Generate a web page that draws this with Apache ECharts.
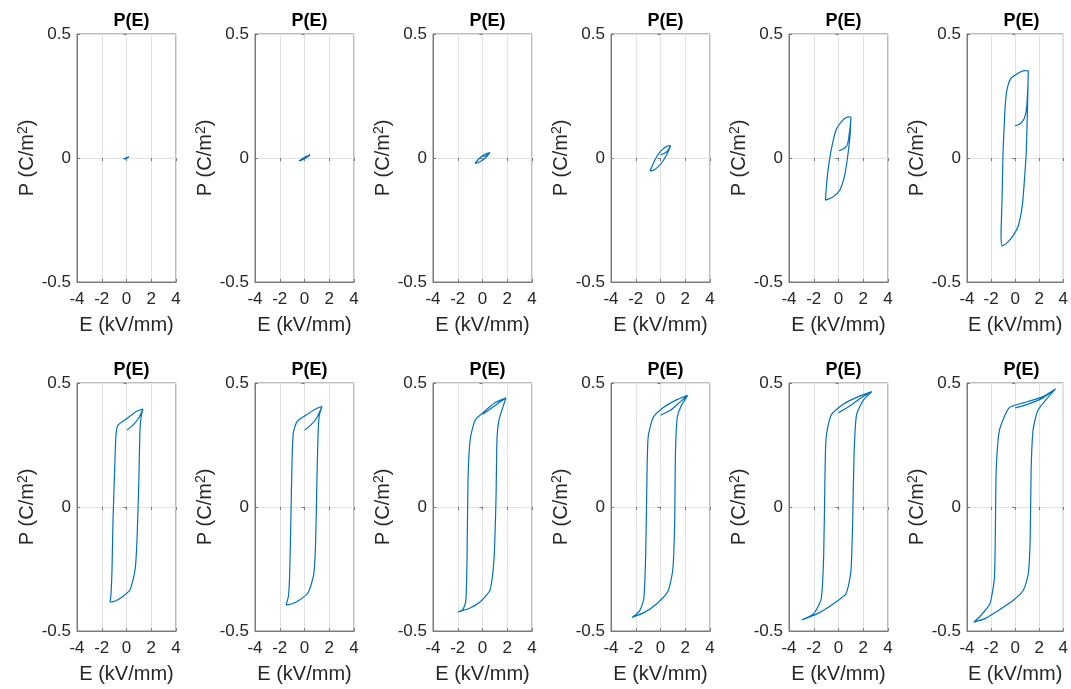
<!DOCTYPE html>
<html>
<head>
<meta charset="utf-8">
<script src="https://cdn.jsdelivr.net/npm/echarts@6/dist/echarts.min.js"></script>
<style>
html,body{margin:0;padding:0;background:#fff;}
#chart{width:1071px;height:689px;}
</style>
</head>
<body>
<div id="chart"></div>
<script>
// ---- Data: each panel is a list of [E (kV/mm), P (C/m^2)] points, in drawing order ----
const panel1 = [[0,0],[0.1,0.002],[0.2,0.005],[0.05,0.002],[-0.1,-0.001],[-0.2,-0.005],[-0.05,-0.002],[0.1,0.001],[0.2,0.005]];
const panel2 = [[0,0.003],[0.2,0.006],[0.45,0.012],[0.2,0.008],[0,0.003],[-0.2,-0.004],[-0.45,-0.012],[-0.2,-0.008],[0,-0.003],[0.2,0.003],[0.45,0.012]];
const panel3 = [[0,0.006],[0.3,0.01],[0.6,0.022],[0.3,0.017],[0,0.009],[-0.3,-0.004],[-0.6,-0.022],[-0.3,-0.017],[0,-0.009],[0.3,0.004],[0.6,0.022]];
const panel4 = [[0,0.012],[0.35,0.02],[0.6,0.03],[0.8,0.05],[0.5,0.047],[0.1,0.032],[-0.3,0.006],[-0.6,-0.024],[-0.85,-0.052],[-0.6,-0.05],[-0.2,-0.036],[0.2,-0.012],[0.5,0.014],[0.7,0.034],[0.8,0.05]];
const panel5 = [[0.05,0.03],[0.35,0.035],[0.6,0.045],[0.75,0.06],[0.85,0.09],[0.95,0.13],[1.0,0.165],
  [0.8,0.166],[0.36,0.153],[-0.2,0.113],[-0.6,0.03],[-0.85,-0.05],[-1.0,-0.13],[-1.05,-0.17],
  [-0.45,-0.157],[0.1,-0.13],[0.5,-0.07],[0.75,0.01],[0.93,0.09],[1.0,0.165]];
const panel6 = [[0,0.13],[0.4,0.137],[0.77,0.16],[0.95,0.2],[1.05,0.28],[1.09,0.35],
  [0.8,0.352],[0.28,0.343],[-0.36,0.32],[-0.7,0.27],[-0.85,0.19],[-1.0,0.03],[-1.09,-0.17],[-1.17,-0.31],[-1.09,-0.355],
  [-0.69,-0.343],[-0.12,-0.31],[0.28,-0.27],[0.6,-0.19],[0.77,-0.09],[0.93,0.03],[1.0,0.15],[1.05,0.25],[1.09,0.35]];
const panel7 = [[0.04,0.31],[0.52,0.33],[1.0,0.36],[1.33,0.395],
  [0.8,0.385],[0.12,0.36],[-0.69,0.33],[-0.85,0.29],[-0.93,0.19],[-1.09,-0.05],[-1.17,-0.25],[-1.25,-0.35],[-1.33,-0.383],
  [-0.93,-0.38],[-0.36,-0.363],[0.28,-0.335],[0.69,-0.254],[0.85,-0.133],[1.0,0.11],[1.09,0.31],[1.2,0.37],[1.33,0.395]];
const panel8 = [[0,0.31],[0.5,0.33],[1.0,0.36],[1.41,0.405],
  [0.9,0.395],[0.1,0.37],[-0.6,0.345],[-0.9,0.3],[-1.0,0.2],[-1.1,-0.05],[-1.2,-0.27],[-1.3,-0.36],[-1.49,-0.395],
  [-1.0,-0.39],[-0.4,-0.375],[0.3,-0.345],[0.75,-0.27],[0.9,-0.14],[1.0,0.1],[1.1,0.3],[1.2,0.37],[1.41,0.405]];
const panel9 = [[0.04,0.375],[0.77,0.4],[1.3,0.42],[1.9,0.44],
  [1.0,0.42],[0.04,0.38],[-0.6,0.35],[-1.0,0.27],[-1.17,0.11],[-1.25,-0.21],[-1.35,-0.38],[-1.6,-0.415],[-1.98,-0.423],
  [-1.0,-0.407],[-0.2,-0.383],[0.6,-0.335],[0.93,-0.21],[1.09,0.03],[1.17,0.27],[1.33,0.35],[1.9,0.44]];
const panel10 = [[0,0.37],[0.8,0.39],[1.5,0.42],[2.2,0.45],
  [1.2,0.43],[0.2,0.4],[-0.6,0.36],[-1.0,0.28],[-1.1,0.1],[-1.2,-0.2],[-1.35,-0.37],[-1.7,-0.42],[-2.3,-0.445],
  [-1.3,-0.425],[-0.3,-0.39],[0.6,-0.34],[1.0,-0.25],[1.15,-0.05],[1.2,0.2],[1.35,0.36],[1.7,0.41],[2.2,0.45]];
const panel11 = [[0,0.38],[1.0,0.41],[1.8,0.44],[2.7,0.465],
  [1.6,0.445],[0.4,0.415],[-0.6,0.37],[-1.0,0.28],[-1.1,0.1],[-1.2,-0.2],[-1.4,-0.37],[-2.0,-0.43],[-2.95,-0.455],
  [-1.7,-0.43],[-0.4,-0.39],[0.6,-0.35],[1.0,-0.26],[1.15,-0.05],[1.25,0.2],[1.45,0.37],[2.0,0.43],[2.7,0.465]];
const panel12 = [[0,0.40],[1.09,0.415],[2.3,0.44],[3.35,0.476],
  [2.3,0.445],[0.69,0.42],[-0.5,0.40],[-1.3,0.31],[-1.57,0.15],[-1.65,-0.13],[-1.73,-0.29],[-2.1,-0.39],[-2.9,-0.44],[-3.43,-0.464],
  [-2.5,-0.45],[-1.33,-0.415],[-0.12,-0.375],[0.69,-0.335],[1.09,-0.27],[1.25,-0.13],[1.33,0.15],[1.49,0.31],[1.9,0.39],[3.35,0.476]];

const panels = [panel1,panel2,panel3,panel4,panel5,panel6,panel7,panel8,panel9,panel10,panel11,panel12];
const panelTitle = 'P(E)';
const xName = 'E (kV/mm)';
const yName = 'P (C/m{sup|2})';
const xMin = -4, xMax = 4, xStep = 2;
const yMin = -0.5, yMax = 0.5, yStep = 0.5;

// ---- Layout ----
const FONT = 'Liberation Sans, Arial, Helvetica, sans-serif';
const TXT = '#262626';
const FRAME = '#7a7a7a';
const GRIDC = '#e3e3e3';
const LINEC = '#0072BD';
const colLeft0 = 77, colStep = 178, plotW = 99, plotH = 248;
const rowTops = [34, 383];

const option = {
  backgroundColor: '#fff',
  animation: false,
  title: [], grid: [], xAxis: [], yAxis: [], series: []
};

panels.forEach((data, i) => {
  const r = Math.floor(i / 6), c = i % 6;
  const left = colLeft0 + c * colStep, top = rowTops[r];
  option.grid.push({
    left: left, top: top, width: plotW, height: plotH,
    show: true, borderColor: FRAME, borderWidth: 1, backgroundColor: 'transparent'
  });
  option.title.push({
    text: panelTitle, left: left + plotW / 2, top: top - 27, textAlign: 'center',
    textStyle: { fontFamily: FONT, fontWeight: 'bold', fontSize: 18, color: '#000' }
  });
  option.xAxis.push({
    type: 'value', gridIndex: i, min: xMin, max: xMax, interval: xStep, position: 'bottom',
    name: xName, nameLocation: 'middle', nameGap: 33,
    nameTextStyle: { fontFamily: FONT, fontSize: 20, color: TXT },
    axisLine: { show: true, onZero: false, lineStyle: { color: FRAME, width: 1 } },
    axisTick: { show: true, inside: true, length: 3, lineStyle: { color: FRAME } },
    axisLabel: { fontFamily: FONT, fontSize: 17, color: TXT, margin: 9 },
    splitLine: { show: true, lineStyle: { color: GRIDC, width: 1 } }
  });
  option.yAxis.push({
    type: 'value', gridIndex: i, min: yMin, max: yMax, interval: yStep, position: 'left',
    name: yName, nameLocation: 'middle', nameGap: 39, nameRotate: 90,
    nameTextStyle: { fontFamily: FONT, fontSize: 20, color: TXT,
      rich: { sup: { fontFamily: FONT, fontSize: 14, color: TXT, verticalAlign: 'top', padding: [0, 0, 8, 0] } } },
    axisLine: { show: true, onZero: false, lineStyle: { color: FRAME, width: 1 } },
    axisTick: { show: true, inside: true, length: 3, lineStyle: { color: FRAME } },
    axisLabel: { fontFamily: FONT, fontSize: 17, color: TXT, margin: 6 },
    splitLine: { show: true, lineStyle: { color: GRIDC, width: 1 } }
  });
  option.series.push({
    type: 'line', xAxisIndex: i, yAxisIndex: i, data: data,
    showSymbol: false, smooth: 0.2, clip: true,
    lineStyle: { color: LINEC, width: 1.2 }, z: 3
  });
});
// secondary (top/right) axes for MATLAB-like box ticks
panels.forEach((data, i) => {
  option.xAxis.push({
    type: 'value', gridIndex: i, min: xMin, max: xMax, interval: xStep, position: 'top',
    axisLine: { show: false }, axisLabel: { show: false }, splitLine: { show: false },
    axisTick: { show: true, inside: true, length: 3, lineStyle: { color: FRAME } }
  });
  option.yAxis.push({
    type: 'value', gridIndex: i, min: yMin, max: yMax, interval: yStep, position: 'right',
    axisLine: { show: false }, axisLabel: { show: false }, splitLine: { show: false },
    axisTick: { show: true, inside: true, length: 3, lineStyle: { color: FRAME } }
  });
});

const chart = echarts.init(document.getElementById('chart'), null, { renderer: 'canvas' });
chart.setOption(option);
</script>
</body>
</html>
